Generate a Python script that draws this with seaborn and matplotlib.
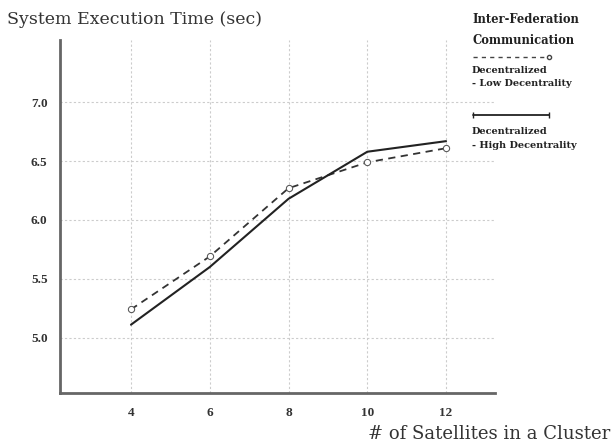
import numpy as np
import pandas as pd
import matplotlib.pyplot as plt
import seaborn as sns
from matplotlib.lines import Line2D

# values
satellites = [4, 6, 8, 10, 12]
low_dec = [5.24, 5.69, 6.27, 6.49, 6.61]
high_dec = [5.11, 5.60, 6.18, 6.58, 6.67]
series = ["Decentralized\n- Low Decentrality", "Decentralized\n- High Decentrality"]
yticks = [5.0, 5.5, 6.0, 6.5, 7.0]

df = pd.DataFrame({
    "sat": satellites * 2,
    "time": low_dec + high_dec,
    "kind": [series[0]] * 5 + [series[1]] * 5,
})

sns.set_style("white")
plt.rcParams['font.family'] = ['Liberation Serif', 'DejaVu Serif']

fig = plt.figure(figsize=(6.13, 4.44), dpi=100)
ax = fig.add_axes([0.098, 0.115, 0.71, 0.795])

sns.lineplot(data=df[df.kind == series[0]], x="sat", y="time", ax=ax, color="#333333",
             linestyle=(0, (4, 3)), lw=1.3, marker="o", markersize=4.5,
             markerfacecolor="white", markeredgecolor="#555555", legend=False)
sns.lineplot(data=df[df.kind == series[1]], x="sat", y="time", ax=ax, color="#222222",
             lw=1.5, legend=False)

ax.set_xlim(2.2, 13.25)
ax.set_ylim(4.53, 7.53)
ax.set_xticks(satellites)
ax.set_yticks(yticks)
ax.set_yticklabels([f"{v:.1f}" for v in yticks])
ax.set_xlabel("")
ax.set_ylabel("")
ax.tick_params(length=0, labelsize=9.5, pad=10)
ax.tick_params(axis="y", pad=9)
for lab in ax.get_xticklabels() + ax.get_yticklabels():
    lab.set_fontweight("bold")
    lab.set_color("#333333")
ax.grid(True, color="#cccccc", linestyle=(0, (2, 2)), lw=0.8)
for s in ["top", "right"]:
    ax.spines[s].set_visible(False)
for s in ["left", "bottom"]:
    ax.spines[s].set_color("#666666")
    ax.spines[s].set_linewidth(2)

fig.text(0.012, 0.955, "System Execution Time (sec)", fontsize=12.5, color="#333333",
         va="center", family="DejaVu Serif")
fig.text(0.995, 0.022, "# of Satellites in a Cluster", fontsize=13, color="#333333",
         ha="right", va="center", family="DejaVu Serif")

# hand-made legend on the right
fig.text(0.77, 0.97, "Inter-Federation\nCommunication", fontsize=8.3, fontweight="bold",
         va="top", linespacing=1.75, color="#222222", family="DejaVu Serif")
fig.add_artist(Line2D([0.772, 0.895], [0.872, 0.872], color="#444444",
                      linestyle=(0, (3, 3)), lw=1, marker="o", markevery=[1],
                      markersize=3, markerfacecolor="white"))
fig.text(0.77, 0.852, series[0], fontsize=7, fontweight="bold", va="top",
         linespacing=1.6, color="#222222", family="DejaVu Serif")
fig.add_artist(Line2D([0.772, 0.895], [0.74, 0.74], color="#222222", lw=1.3,
                      marker="|", markersize=5))
fig.text(0.77, 0.713, series[1], fontsize=7, fontweight="bold", va="top",
         linespacing=1.6, color="#222222", family="DejaVu Serif")

plt.savefig("out.png", dpi=100)
